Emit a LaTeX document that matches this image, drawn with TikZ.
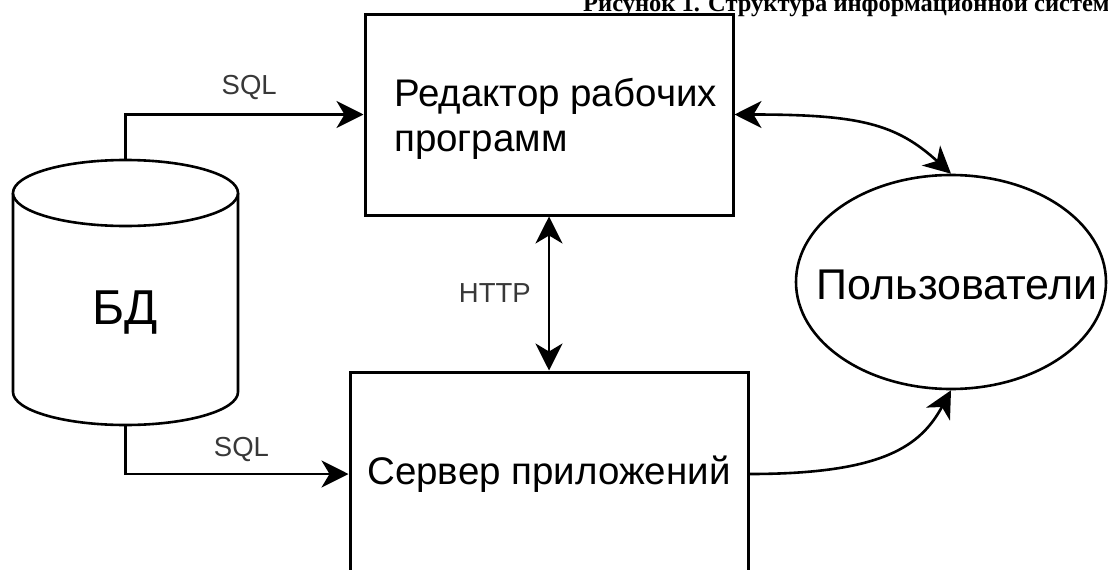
\documentclass[tikz,border=0pt]{standalone}
\usepackage{fontspec}
\setmainfont{Liberation Sans}
\newfontfamily\titlefont{Liberation Serif}
\usetikzlibrary{arrows.meta,shapes.geometric}
\tikzset{
  box/.style={draw=black, line width=3pt, fill=white, inner sep=0pt},
  conn/.style={draw=black, line width=2.6pt},
  tip/.style={-{Stealth[length=27pt,width=27pt,inset=8pt]}},
  tips/.style={{Stealth[length=27pt,width=27pt,inset=8pt]}-{Stealth[length=27pt,width=27pt,inset=8pt]}},
  lbl/.style={text=black!78, font=\fontsize{27.5}{31}\selectfont, inner sep=0pt},
  big/.style={font=\fontsize{38.5}{45}\selectfont},
}
\begin{document}
\begin{tikzpicture}[x=1pt,y=-1pt]
\useasboundingbox (0,0) rectangle (1108,570);
\fill[white] (0,0) rectangle (1108,570);

% title
\node[anchor=base west, inner sep=0pt, font=\titlefont\bfseries\fontsize{24.5}{27}\selectfont] (title) at (583,11) {Рисунок 1. Структура информационной системы};

% database cylinder
\draw[line width=2.6pt, fill=white] (13,193) -- (13,392) arc[start angle=180, end angle=360, x radius=112.5, y radius=-33] -- (238,193);
\draw[line width=2.6pt, fill=white] (125.5,193) ellipse[x radius=112.5, y radius=33];
\coordinate (dbtop) at (125.5,160);
\coordinate (dbbot) at (125.5,425);
\node[font=\fontsize{49}{52}\selectfont, inner sep=0pt] (db) at (125.5,313) {БД};

% boxes
\node[box, minimum width=368pt, minimum height=201pt] (ed) at (549,114.5) {};
\node[big, align=left, inner sep=0pt, anchor=north west] (edtext) at (394,78) {Редактор рабочих\\программ};
\node[box, big, minimum width=398pt, minimum height=204pt] (srv) at (549,474) {Сервер приложений};

% users ellipse
\node[draw=black, line width=2.6pt, shape=ellipse, minimum width=310pt, minimum height=214pt, inner sep=0pt] (users) at (951,282) {};
\node[font=\fontsize{43}{46}\selectfont, inner sep=0pt] (userstext) at (957,285) {Пользователи};

% connectors
\draw[conn, tip] (dbtop) |- (ed.west) node[lbl, pos=0.76, above=14pt] (sql1) {SQL};
\draw[conn, tip] (dbbot) |- (srv.west) node[lbl, pos=0.76, above=11pt] (sql2) {SQL};
\draw[conn, tips] (ed.south) -- (srv.north) node[lbl, midway, left=17pt] (http) {HTTP};
\draw[conn, tips] (ed.east) .. controls +(125,0) and +(-55,-50) .. (users.north);
\draw[conn, tip] (srv.east) .. controls +(135,0) and +(-30,55) .. (users.south);
\end{tikzpicture}
\end{document}
